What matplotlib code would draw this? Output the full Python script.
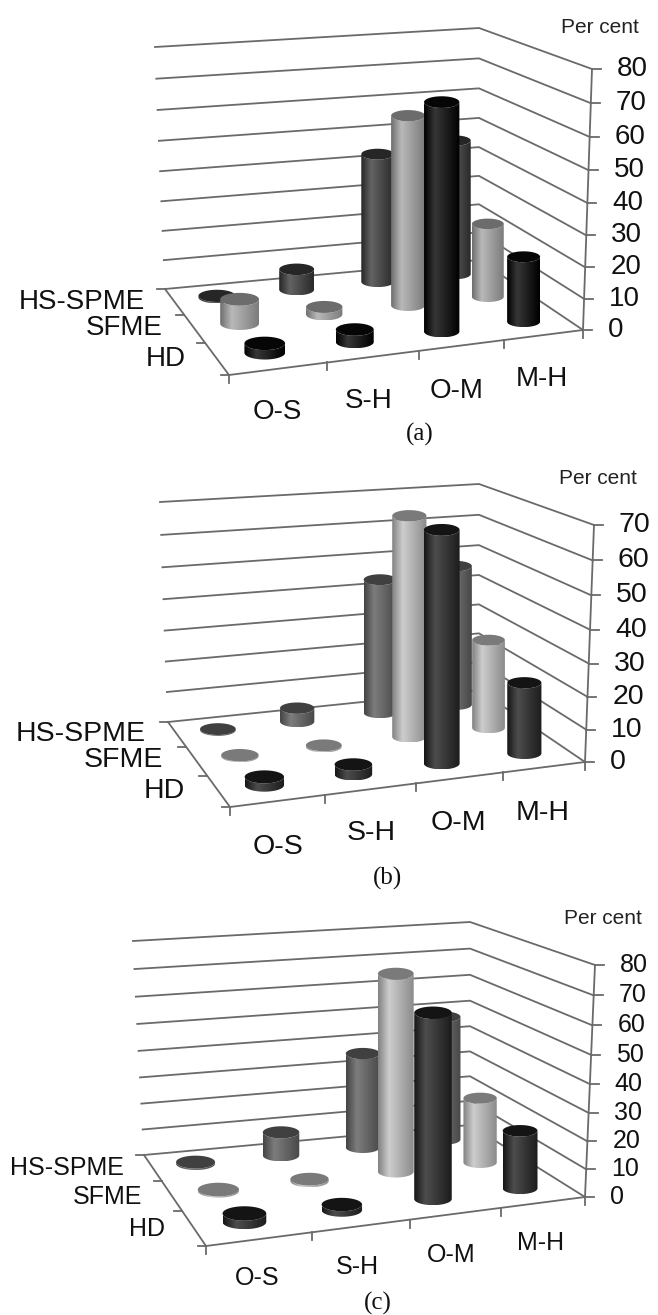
import numpy as np
import matplotlib
matplotlib.use('Agg')
import matplotlib.pyplot as plt
from matplotlib.colors import LinearSegmentedColormap
from matplotlib.patches import PathPatch
from matplotlib.path import Path

categories = ['O-S', 'S-H', 'O-M', 'M-H']
series = ['HD', 'SFME', 'HS-SPME']

# values, rows follow series (front row first)
values_a = [[3, 4, 71, 21], [8, 2.5, 61.5, 24.5], [0.5, 7, 43.5, 46]]
values_b = [[2.5, 3, 69, 22], [0.3, 0.4, 68.5, 28.5], [0.3, 4.5, 44, 46.5]]
values_c = [[3, 2, 65, 21], [0.5, 0.7, 72, 24.5], [0.6, 9, 36.5, 48]]
ticks_a = [0, 10, 20, 30, 40, 50, 60, 70, 80]
ticks_b = [0, 10, 20, 30, 40, 50, 60, 70]
ticks_c = [0, 10, 20, 30, 40, 50, 60, 70, 80]

GRID = '#6a6a6a'
plt.rcParams['font.family'] = ['Liberation Sans', 'DejaVu Sans']

# shading of the sides (edge, highlight, edge) and top face per series
dark_a = {'HD': ('#000000', '#363636', '#000000', '#060606'),
          'SFME': ('#6f6f6f', '#b8b8b8', '#7c7c7c', '#6c6c6c'),
          'HS-SPME': ('#262626', '#626262', '#2a2a2a', '#262626')}
dark_b = {'HD': ('#161616', '#4c4c4c', '#1c1c1c', '#141414'),
          'SFME': ('#828282', '#cccccc', '#8c8c8c', '#7a7a7a'),
          'HS-SPME': ('#444444', '#7c7c7c', '#484848', '#404040')}

# floor corners FL, FR, BR, BL and the same corners at the top value (pixels)
layout_a = {'floor': [(229, 375), (583, 330), (479, 260), (165, 289)],
            'top': [(227, 103), (592, 69), (479, 28), (155, 47)],
            'zmax': 80, 'shade': dark_a, 'name': '(a)', 'name_xy': (420, 434),
            'percent_xy': (600, 27), 'size': 20,
            'bar_shift': [-0.01, -0.04, -0.035, -0.02],
            'left_xy': [(186, 359), (163, 328), (145, 302)],
            'cat_xy': [(277, 412), (369, 401), (457, 391), (542, 379)]}
layout_b = {'floor': [(230, 807), (585, 762), (479, 690), (168, 722)],
            'top': [(228, 554), (594, 525), (479, 484), (160, 502)],
            'zmax': 70, 'shade': dark_b, 'name': '(b)', 'name_xy': (388, 878),
            'percent_xy': (598, 478), 'size': 20.5,
            'bar_shift': [-0.01, -0.03, -0.01, -0.01],
            'left_xy': [(185, 791), (163, 760), (146, 734)],
            'cat_xy': [(278, 847), (371, 833), (458, 823), (543, 813)]}
layout_c = {'floor': [(206, 1246), (585, 1197), (470, 1125), (144, 1155)],
            'top': [(204, 1001), (595, 965), (470, 922), (133, 941)],
            'zmax': 80, 'shade': dark_b, 'name': '(c)', 'name_xy': (378, 1303),
            'percent_xy': (603, 918), 'size': 18,
            'bar_shift': [-0.02, -0.04, -0.05, -0.03],
            'left_xy': [(165, 1229), (142, 1197), (124, 1168)],
            'cat_xy': [(257, 1278), (357, 1267), (451, 1255), (541, 1243)]}


def homography(corners):
    src = [(0, 0), (4, 0), (4, 3), (0, 3)]
    A, b = [], []
    for (u, v), (x, y) in zip(src, corners):
        A.append([u, v, 1, 0, 0, 0, -u * x, -v * x])
        A.append([0, 0, 0, u, v, 1, -u * y, -v * y])
        b += [x, y]
    return np.append(np.linalg.solve(np.array(A, float), np.array(b, float)), 1).reshape(3, 3)


def make_project(cfg):
    Hf, Ht = homography(cfg['floor']), homography(cfg['top'])

    def project(u, v, z=0):
        pf = Hf @ [u, v, 1]
        pt = Ht @ [u, v, 1]
        t = z / cfg['zmax']
        t = t / (t + 1.055 * (1 - t))  # value scale is a little tighter low down
        return (1 - t) * pf[:2] / pf[2] + t * pt[:2] / pt[2]
    return project


def cylinder(ax, project, u, v, val, shade, order):
    b = project(u, v, 0)
    t = np.array([b[0], project(u, v, val)[1]])  # bars stay upright
    rx = np.linalg.norm(project(u + 0.21, v) - project(u - 0.21, v)) / 2
    ry = 0.33 * rx
    theta = np.linspace(np.pi, 0, 40)
    # lower rim goes left to right, then up the side and round the top back
    low = np.column_stack([b[0] + rx * np.cos(theta), b[1] + ry * np.sin(theta)])
    up = np.column_stack([t[0] - rx * np.cos(theta), t[1] + ry * np.sin(theta)])
    body = Path(np.vstack([low, up, low[:1]]))
    cmap = LinearSegmentedColormap.from_list('c', [shade[0], shade[1], shade[2]])
    grad = np.concatenate([np.linspace(0, 0.5, 20), np.linspace(0.5, 1, 44)]).reshape(1, -1)
    im = ax.imshow(grad, cmap=cmap, aspect='auto', zorder=order,
                   extent=(b[0] - rx, b[0] + rx, b[1] + ry, t[1] - ry), vmin=0, vmax=1)
    patch = PathPatch(body, transform=ax.transData, fc='none', ec='none')
    ax.add_patch(patch)
    im.set_clip_path(patch)
    phi = np.linspace(0, 2 * np.pi, 60)
    ax.fill(t[0] + rx * np.cos(phi), t[1] + ry * np.sin(phi), color=shade[3],
            lw=0, zorder=order + 0.5)


def draw_panel(ax, cfg, values, ticks):
    project = make_project(cfg)
    lw = 1.3
    size = cfg['size']
    # walls: every gridline runs back left corner -> back corner -> front right
    for tk in ticks:
        pts = np.array([project(0, 3, tk), project(4, 3, tk), project(4, 0, tk)])
        ax.plot(pts[:, 0], pts[:, 1], color=GRID, lw=lw, zorder=1)
    # floor edges
    edge = np.array([project(0, 3), project(0, 0), project(4, 0)])
    ax.plot(edge[:, 0], edge[:, 1], color=GRID, lw=lw, zorder=1)
    # value axis, ticks and labels
    ax_line = np.array([project(4, 0, ticks[0]), project(4, 0, ticks[-1])])
    ax.plot(ax_line[:, 0], ax_line[:, 1], color=GRID, lw=lw, zorder=1)
    for tk in ticks:
        p = project(4, 0, tk)
        ax.plot([p[0], p[0] + 9], [p[1], p[1]], color=GRID, lw=lw, zorder=1)
        ax.text(p[0] + 25, p[1], str(tk), fontsize=size, ha='left', va='center', color='#111111')
    # category ticks on the front edge, series ticks on the left edge
    for i in range(len(categories) + 1):
        p = project(i, 0)
        ax.plot([p[0], p[0]], [p[1], p[1] + 8], color=GRID, lw=lw, zorder=1)
    for j in range(len(series) + 1):
        p = project(0, j)
        ax.plot([p[0], p[0] - 8], [p[1], p[1]], color=GRID, lw=lw, zorder=1)
    for name, xy in zip(categories, cfg['cat_xy']):
        ax.text(xy[0], xy[1], name, fontsize=size, ha='center', va='center', color='#111111')
    for name, xy in zip(series, cfg['left_xy']):
        ax.text(xy[0], xy[1], name, fontsize=size, ha='right', va='center', color='#111111')
    ax.text(*cfg['percent_xy'], 'Per cent', fontsize=15, ha='center', va='center', color='#222222')
    ax.text(*cfg['name_xy'], cfg['name'], fontsize=18, ha='center', va='center',
            family=['Liberation Serif'], color='#111111')
    # back row first so that the front row covers it
    order = 2
    for j in [2, 1, 0]:
        for i in range(len(categories)):
            # bars sit a bit left of the tick midpoints, more so further back
            u = i + 0.5 + cfg['bar_shift'][i] * (1 + 0.6 * j)
            cylinder(ax, project, u, j + 0.5, values[j][i], cfg['shade'][series[j]], order)
            order += 1


fig = plt.figure(figsize=(6.58, 13.15), dpi=100)
ax = fig.add_axes([0, 0, 1, 1])
draw_panel(ax, layout_a, values_a, ticks_a)
draw_panel(ax, layout_b, values_b, ticks_b)
draw_panel(ax, layout_c, values_c, ticks_c)
ax.set_xlim(0, 658)
ax.set_ylim(1315, 0)
ax.axis('off')
fig.savefig('out.png', dpi=100)
